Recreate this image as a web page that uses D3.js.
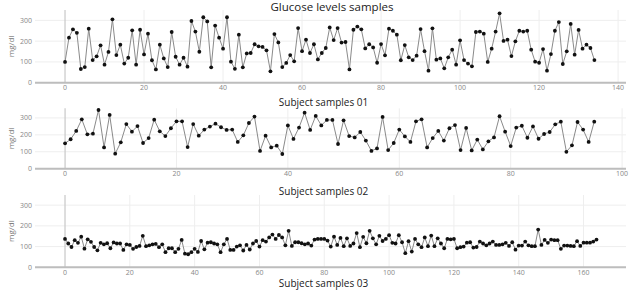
<!DOCTYPE html>
<html><head><meta charset="utf-8">
<script src="https://cdn.jsdelivr.net/npm/d3@7"></script>
<style>body{margin:0;background:#fff}svg{display:block}</style>
</head><body>
<svg id="chart" width="634" height="292"></svg>
<script>
const title = "Glucose levels samples";
const yLabel = "mg/dl";
const axisTitles = ["Subject samples 01", "Subject samples 02", "Subject samples 03"];

const samples01 = [100,217,257,240,66,75,260,109,127,180,87,148,305,133,183,92,120,252,87,255,
136,236,108,64,183,117,75,244,125,87,120,77,297,246,149,315,295,74,275,217,
164,315,101,67,231,74,141,143,185,175,172,156,55,234,194,75,95,133,103,263,
152,207,143,185,112,143,167,266,205,263,193,196,64,255,270,257,165,185,170,96,
186,132,260,250,231,108,181,122,109,130,258,152,58,262,111,117,69,122,159,87,
204,109,92,79,244,246,236,100,164,246,334,201,207,128,199,250,246,250,159,101,
96,162,58,138,250,292,90,151,283,135,254,164,183,167,109];

const samples02 = [150,174,223,292,203,207,347,126,318,89,156,264,219,252,152,181,290,221,193,239,
280,280,128,264,195,231,249,266,245,229,231,158,197,270,308,105,195,126,136,87,
256,176,243,331,229,312,256,288,288,146,286,193,185,217,166,105,120,306,110,152,
231,191,158,280,292,126,181,223,166,239,258,110,241,108,172,114,162,185,310,219,
134,243,254,183,250,177,205,217,262,278,100,138,276,231,158,278];

const samples03 = [137,115,98,131,118,148,90,135,123,98,82,118,111,116,92,120,115,115,84,111,
108,89,98,103,152,102,106,111,113,97,111,73,92,92,73,89,132,66,63,73,
89,74,127,87,119,121,115,111,73,111,137,84,84,100,106,81,108,86,115,127,
100,131,124,144,158,137,156,144,106,176,103,121,121,116,111,115,105,134,137,137,
137,129,100,148,108,142,102,140,103,115,165,97,147,116,176,140,111,152,127,137,
155,118,115,155,121,68,126,76,137,111,97,144,102,153,102,140,115,92,137,135,
137,92,97,100,119,121,95,98,124,115,106,115,124,108,108,111,118,103,121,85,
105,105,124,106,102,102,182,108,132,118,134,131,131,89,105,105,103,102,126,103,
119,119,119,124,134];

const yTicks = [0,100,200,300];
const xTicks01 = [0,20,40,60,80,100,120,140];
const xTicks02 = [0,20,40,60,80,100];
const xTicks03 = [0,20,40,60,80,100,120,140,160];

const panels = [
  {values: samples01, ticks: xTicks01, xDom: [-7.6,142], yDom: [0,350], yRange: [82.7,10], labelY: 106, name: axisTitles[0]},
  {values: samples02, ticks: xTicks02, xDom: [-5.4,100.7], yDom: [0,357], yRange: [168.7,108.3], labelY: 194.5, name: axisTitles[1]},
  {values: samples03, ticks: xTicks03, xDom: [-9.26,173.1], yDom: [0,349], yRange: [267.3,195], labelY: 287.3, name: axisTitles[2]}
];

const svg = d3.select("#chart");
const font = "'Open Sans', sans-serif";
const xRange = [35, 626];

svg.append("text").attr("x", 332).attr("y", 11).attr("text-anchor","middle")
  .attr("font-family", font).attr("font-size", 11.5).attr("fill","#222").text(title);

panels.forEach(p => {
  const x = d3.scaleLinear().domain(p.xDom).range(xRange);
  const y = d3.scaleLinear().domain(p.yDom).range(p.yRange);
  const g = svg.append("g");

  // grid
  g.selectAll(".vg").data(p.ticks.filter(t => t !== 0)).join("line")
    .attr("x1", d => x(d)).attr("x2", d => x(d))
    .attr("y1", p.yRange[0]).attr("y2", p.yRange[1])
    .attr("stroke", "#eeeeee").attr("stroke-width", 1);
  g.selectAll(".hg").data(yTicks.filter(t => t !== 0)).join("line")
    .attr("x1", xRange[0]).attr("x2", xRange[1])
    .attr("y1", d => y(d)).attr("y2", d => y(d))
    .attr("stroke", "#eeeeee").attr("stroke-width", 1);

  // zero lines
  g.append("line").attr("x1", x(0)).attr("x2", x(0))
    .attr("y1", p.yRange[0]).attr("y2", p.yRange[1])
    .attr("stroke", "#c8c8c8").attr("stroke-width", 1.2);
  g.append("line").attr("x1", xRange[0]).attr("x2", xRange[1])
    .attr("y1", y(0)).attr("y2", y(0))
    .attr("stroke", "#bdbdbd").attr("stroke-width", 2);

  // tick labels
  g.selectAll(".xt").data(p.ticks).join("text")
    .attr("x", d => x(d)).attr("y", y(0) + 7.2)
    .attr("text-anchor", "middle").attr("font-family", font)
    .attr("font-size", 7).attr("fill", "#888").text(d => d);
  g.selectAll(".yt").data(yTicks).join("text")
    .attr("x", 32).attr("y", d => y(d) + 2.5)
    .attr("text-anchor", "end").attr("font-family", font)
    .attr("font-size", 7).attr("fill", "#888").text(d => d);

  // y label
  const cy = (p.yRange[0] + p.yRange[1]) / 2;
  g.append("text").attr("transform", `translate(14,${cy}) rotate(-90)`)
    .attr("text-anchor", "middle").attr("font-family", font)
    .attr("font-size", 8).attr("fill", "#777").text(yLabel);

  // line
  const line = d3.line().x((d, i) => x(i)).y(d => y(d));
  g.append("path").datum(p.values).attr("d", line)
    .attr("fill", "none").attr("stroke", "#8a8a8a").attr("stroke-width", 1);
  g.selectAll(".pt").data(p.values).join("circle")
    .attr("cx", (d, i) => x(i)).attr("cy", d => y(d)).attr("r", 1.9)
    .attr("fill", "#111");

  // axis title
  svg.append("text").attr("x", 323.5).attr("y", p.labelY).attr("text-anchor", "middle")
    .attr("font-family", font).attr("font-size", 10).attr("fill", "#222").text(p.name);
});
</script>
</body></html>
